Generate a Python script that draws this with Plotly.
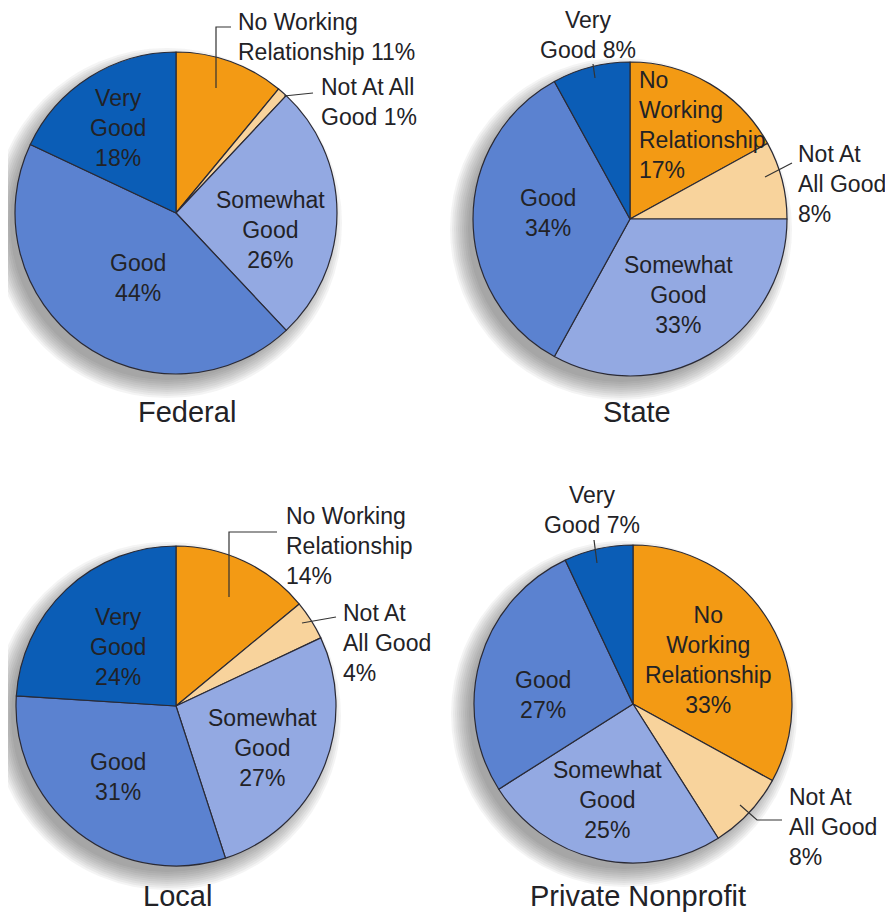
import plotly.graph_objects as go

# page body has an 8px margin, so the figure is placed at (8, 8)
OFF = 8
W, H = 893 - 2 * OFF, 921 - 2 * OFF

categories = ["No Working Relationship", "Not At All Good", "Somewhat Good", "Good", "Very Good"]
federal = [11, 1, 26, 44, 18]
state = [17, 8, 33, 34, 8]
local = [14, 4, 27, 31, 24]
private_nonprofit = [33, 8, 25, 27, 7]
titles = ["Federal", "State", "Local", "Private Nonprofit"]

colors = ["#F39A14", "#F8D39C", "#93A9E2", "#5B82D0", "#0B5DB6"]
TEXT = "#222226"
FONT = "Liberation Sans, Arial, sans-serif"
LSIZE = 23

# pie geometry (window pixels): center x, center y, radius
geo = [(176, 213, 161), (630, 219, 157), (176, 706, 160), (633, 704, 159)]
datasets = [federal, state, local, private_nonprofit]


def px(x):
    return (x - OFF) / W


def py(y):
    return 1 - (y - OFF) / H


fig = go.Figure()
shapes = []
for (cx, cy, r), vals in zip(geo, datasets):
    fig.add_trace(go.Pie(
        labels=categories, values=vals, sort=False, direction="clockwise",
        rotation=0, textinfo="none", hoverinfo="label+percent",
        marker=dict(colors=colors, line=dict(color="#2a2a35", width=1.2)),
        domain=dict(x=[px(cx - r), px(cx + r)], y=[py(cy + r), py(cy - r)]),
        showlegend=False,
    ))
    # soft drop shadow toward lower left
    ox, oy = -9, 10
    for k in range(10):
        rr = r - 4 + k * 2
        shapes.append(dict(type="circle", xref="paper", yref="paper", layer="below",
                           x0=px(cx + ox - rr), x1=px(cx + ox + rr),
                           y0=py(cy + oy + rr), y1=py(cy + oy - rr),
                           fillcolor="rgba(60,60,60,0.06)", line=dict(width=0)))

annotations = []


def lab(x, y, text, align="center", anchor="center", size=LSIZE, yanchor="middle"):
    annotations.append(dict(x=px(x), y=py(y), xref="paper", yref="paper",
                            text=text, showarrow=False, align=align,
                            xanchor=anchor, yanchor=yanchor,
                            font=dict(family=FONT, size=size, color=TEXT)))


def leader(points):
    d = "M " + " L ".join(f"{px(x)},{py(y)}" for x, y in points)
    shapes.append(dict(type="path", xref="paper", yref="paper", path=d,
                       line=dict(color="#333333", width=1.2)))


def pct(v):
    return f"{v}%"

# Federal
v = federal
lab(236, 37, f"No Working<br>Relationship {pct(v[0])}", align="left", anchor="left")
leader([(216, 88), (216, 27), (231, 27)])
lab(319, 102, f"Not At All<br>Good {pct(v[1])}", align="left", anchor="left")
leader([(284, 96), (313, 93)])
lab(270, 230, f"Somewhat<br>Good<br>{pct(v[2])}")
lab(138, 278, f"Good<br>{pct(v[3])}")
lab(118, 128, f"Very<br>Good<br>{pct(v[4])}")

# State
v = state
lab(637, 125, f"No<br>Working<br>Relationship<br>{pct(v[0])}", align="left", anchor="left")
lab(796, 184, f"Not At<br>All Good<br>{pct(v[1])}", align="left", anchor="left")
leader([(765, 177), (792, 163)])
lab(678, 295, f"Somewhat<br>Good<br>{pct(v[2])}")
lab(548, 213, f"Good<br>{pct(v[3])}")
lab(588, 35, f"Very<br>Good {pct(v[4])}")
leader([(595, 78), (593, 64)])

# Local
v = local
lab(284, 546, f"No Working<br>Relationship<br>{pct(v[0])}", align="left", anchor="left")
leader([(229, 597), (229, 532), (277, 532)])
lab(341, 643, f"Not At<br>All Good<br>{pct(v[1])}", align="left", anchor="left")
leader([(302, 623), (336, 617)])
lab(262, 748, f"Somewhat<br>Good<br>{pct(v[2])}")
lab(118, 777, f"Good<br>{pct(v[3])}")
lab(118, 647, f"Very<br>Good<br>{pct(v[4])}")

# Private Nonprofit
v = private_nonprofit
lab(708, 660, f"No<br>Working<br>Relationship<br>{pct(v[0])}")
lab(787, 827, f"Not At<br>All Good<br>{pct(v[1])}", align="left", anchor="left")
leader([(740, 805), (757, 820), (782, 820)])
lab(607, 800, f"Somewhat<br>Good<br>{pct(v[2])}")
lab(543, 695, f"Good<br>{pct(v[3])}")
lab(592, 510, f"Very<br>Good {pct(v[4])}")
leader([(597, 563), (594, 540)])

# titles
lab(187, 412, titles[0], size=29)
lab(637, 412, titles[1], size=29)
lab(177, 914, titles[2], size=29, yanchor="bottom")
lab(638, 914, titles[3], size=29, yanchor="bottom")

fig.update_layout(width=W, height=H, margin=dict(l=0, r=0, t=0, b=0),
                  paper_bgcolor="white", plot_bgcolor="white",
                  showlegend=False, shapes=shapes, annotations=annotations)

fig.write_html("out.html")
